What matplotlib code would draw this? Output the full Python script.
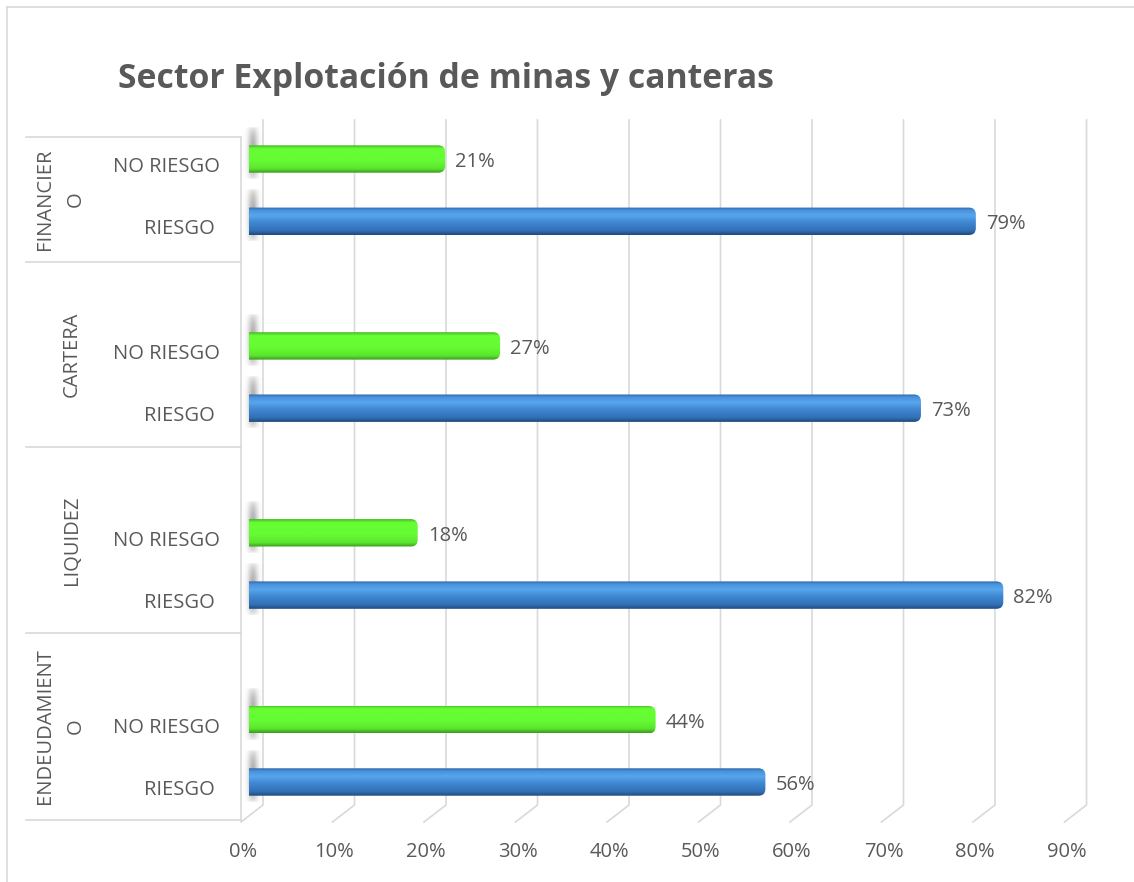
import matplotlib
matplotlib.use('Agg')
import matplotlib.pyplot as plt
import numpy as np
from matplotlib.patches import FancyBboxPatch
from matplotlib.lines import Line2D
from matplotlib.colors import to_rgb

# ---------------- data ----------------
title = 'Sector Explotación de minas y canteras'
group_labels = ['ENDEUDAMIENT\nO', 'LIQUIDEZ', 'CARTERA', 'FINANCIER\nO']   # bottom -> top
categories = ['RIESGO', 'NO RIESGO']
riesgo = [56, 82, 73, 79]
no_riesgo = [44, 18, 27, 21]
ticks = [0, 10, 20, 30, 40, 50, 60, 70, 80, 90]
tick_labels = ['0%', '10%', '20%', '30%', '40%', '50%', '60%', '70%', '80%', '90%']

# ---------------- style ----------------
W, H = 1134, 882
TXT = '#595959'
GRID = '#d9d9d9'
FONT = 'Open Sans'
plt.rcParams['font.family'] = [FONT, 'DejaVu Sans']
FS = 14.5

PX = 9.15      # pixels per percent
PY = 62.3      # pixels per category unit
X0 = 249       # pixel x of 0 %
Y0 = 782       # pixel y of first bar center
CAP = 4 / PX   # 3D end-cap protrusion


def dx(px):
    return (px - X0) / PX


def dy(py):
    return (Y0 - py) / PY


fig = plt.figure(figsize=(W / 100, H / 100), dpi=100)
ax_l, ax_r, ax_t, ax_b = 249, 1130, 117, 825
ax = fig.add_axes([ax_l / W, 1 - ax_b / H, (ax_r - ax_l) / W, (ax_b - ax_t) / H])
ax.set_xlim(dx(ax_l), dx(ax_r))
ax.set_ylim(dy(ax_b), dy(ax_t))
ax.axis('off')

# outer chart border (top and left visible)
fig.add_artist(Line2D([7 / W, 1.0], [1 - 7 / H, 1 - 7 / H], transform=fig.transFigure,
                      color=GRID, lw=1.2))
fig.add_artist(Line2D([7 / W, 7 / W], [0, 1 - 7 / H], transform=fig.transFigure,
                      color=GRID, lw=1.2))

# title
fig.text(118 / W, 1 - 79 / H, title, ha='left', va='center', fontsize=24.3,
         fontweight='bold', color=TXT)

# gridlines with 3D floor
back_off = 14 / PX
front_off = -8 / PX
y_top, y_bend, y_front = dy(120), dy(805), dy(822)
for t in ticks:
    xb, xf = t + back_off, t + front_off
    ax.plot([xb, xb, xf], [y_top, y_bend, y_front], color=GRID, lw=1.2,
            clip_on=False, zorder=1, solid_joinstyle='miter')

# tick labels
for t, lab in zip(ticks, tick_labels):
    ax.text(t + front_off + 2 / PX, dy(852), lab, ha='center', va='center',
            fontsize=FS, color=TXT, clip_on=False)

# left category box
box_lines = [137, 262, 447, 633, 820]
for b in box_lines:
    ax.plot([dx(26), dx(241)], [dy(b), dy(b)], color=GRID, lw=1.2, clip_on=False)
ax.plot([dx(241), dx(241)], [dy(137), dy(820)], color=GRID, lw=1.2, clip_on=False)

# group labels
group_x = [60, 72, 72, 60]
for i, g in enumerate(group_labels):
    yc = (dy(box_lines[3 - i]) + dy(box_lines[4 - i])) / 2
    ax.text(dx(group_x[i]), yc, g, rotation=90, ha='center', va='center',
            multialignment='center', fontsize=FS, color=TXT, clip_on=False,
            linespacing=1.7)


def gradient(stops, n=64):
    pos = [p for p, _ in stops]
    cols = np.array([to_rgb(c) for _, c in stops])
    t = np.linspace(0, 1, n)
    arr = np.stack([np.interp(t, pos, cols[:, k]) for k in range(3)], axis=1)
    return arr[:, None, :]


blue_grad = gradient([(0.0, '#2b64a8'), (0.1, '#4892dc'), (0.3, '#58a5ee'),
                      (0.55, '#3f87d2'), (0.85, '#3270b6'), (1.0, '#22497a')])
green_grad = gradient([(0.0, '#47b526'), (0.12, '#66ff33'), (0.55, '#66fb33'),
                       (0.85, '#5ae52e'), (1.0, '#3c9a1c')])

bar_h = 0.44
aspect = (1 / PY) / (1 / PX)

# soft shadow sprite
_xs = np.linspace(-1, 1, 24)
_ys = np.linspace(0, 1, 48)
shadow = np.zeros((48, 24, 4))
shadow[..., 0:3] = 0.35
shadow[..., 3] = (np.exp(-(_xs[None, :] / 0.5) ** 2)
                  * np.clip(np.sin(np.pi * _ys[:, None]) ** 0.5, 0, 1) * 0.5)


def draw_bar(yc, val, grad):
    end = val + CAP
    patch = FancyBboxPatch((-2, yc - bar_h / 2), end + 2, bar_h,
                           boxstyle='round,pad=0,rounding_size=0.75',
                           mutation_aspect=aspect, facecolor='none',
                           edgecolor='none', transform=ax.transData, zorder=3)
    ax.add_patch(patch)
    im = ax.imshow(grad, extent=(-2, end, yc - bar_h / 2, yc + bar_h / 2),
                   origin='upper', aspect='auto', zorder=3, interpolation='bilinear')
    im.set_clip_path(patch)
    # shadow at bar start
    ax.imshow(shadow, extent=(dx(243), dx(263), yc - bar_h / 2 - 0.12, yc + bar_h / 2 + 0.3),
              origin='upper', aspect='auto', zorder=2, interpolation='bilinear',
              clip_on=False)
    ax.text(end + 10 / PX, yc - 3 / PY, f'{val}%', ha='left', va='center',
            fontsize=FS, color=TXT, zorder=4)


for i in range(len(group_labels)):
    y_r = 3 * i
    y_n = 3 * i + 1
    draw_bar(y_r, riesgo[i], blue_grad)
    draw_bar(y_n, no_riesgo[i], green_grad)
    ax.text(dx(179), y_r - 8 / PY, categories[0], ha='center', va='center',
            fontsize=FS, color=TXT, clip_on=False)
    ax.text(dx(166), y_n - 8 / PY, categories[1], ha='center', va='center',
            fontsize=FS, color=TXT, clip_on=False)

ax.set_xlim(dx(ax_l), dx(ax_r))
ax.set_ylim(dy(ax_b), dy(ax_t))

fig.savefig('out.png', dpi=100)
